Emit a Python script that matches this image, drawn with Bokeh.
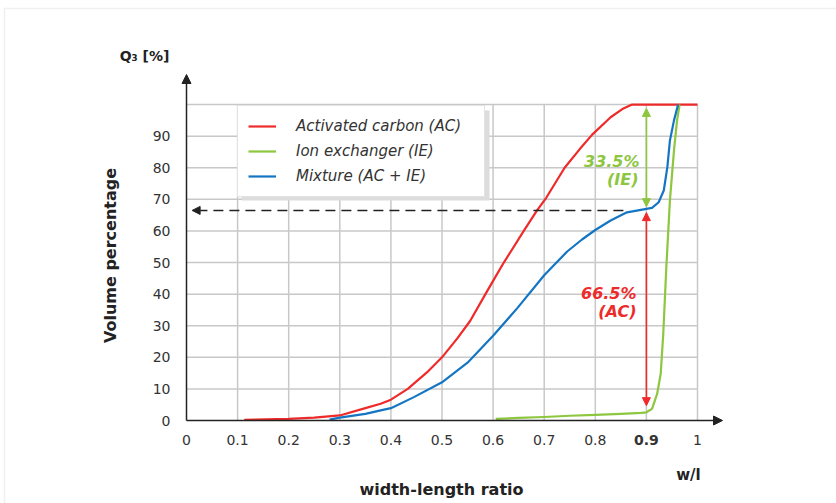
from bokeh.plotting import figure
from bokeh.models import (Range1d, Label, Arrow, NormalHead, Legend, LegendItem,
                          BoxAnnotation, ColumnDataSource)
from bokeh.core.properties import value
from bokeh.embed import file_html
from bokeh.resources import INLINE

# ---------------- data ----------------
ac_x = [0.113, 0.2, 0.25, 0.3, 0.35, 0.38, 0.4, 0.433, 0.471, 0.5, 0.53, 0.555,
        0.585, 0.6, 0.621, 0.66, 0.686, 0.704, 0.74, 0.77, 0.794, 0.83, 0.855,
        0.872, 1.0]
ac_y = [0.2, 0.5, 0.9, 1.6, 3.9, 5.3, 6.6, 10.0, 15.3, 20.0, 26.0, 31.5,
        40.0, 44.2, 50.0, 60.0, 66.5, 70.5, 80.0, 86.0, 90.5, 96.0, 98.8,
        100.0, 100.0]

ie_x = [0.605, 0.65, 0.7, 0.75, 0.8, 0.85, 0.89, 0.9, 0.911, 0.921, 0.928,
        0.933, 0.939, 0.946, 0.954, 0.96, 0.965]
ie_y = [0.5, 0.8, 1.1, 1.5, 1.8, 2.1, 2.4, 2.6, 3.7, 8.4, 14.8,
        27.4, 48.5, 69.6, 85.5, 95.0, 100.0]

mix_x = [0.28, 0.3, 0.35, 0.38, 0.4, 0.445, 0.5, 0.55, 0.6, 0.647, 0.7,
         0.745, 0.774, 0.8, 0.83, 0.862, 0.9, 0.911, 0.924, 0.934,
         0.941, 0.946, 0.954, 0.962]
mix_y = [0.3, 0.9, 2.1, 3.2, 3.9, 7.4, 12.1, 18.3, 26.8, 35.5, 46.0,
         53.5, 57.3, 60.3, 63.3, 65.9, 67.0, 67.3, 69.1, 72.8,
         80.2, 88.6, 95.0, 100.0]

series_names = ["Activated carbon (AC)", "Ion exchanger (IE)", "Mixture (AC + IE)"]

x_ticks = [0, 0.1, 0.2, 0.3, 0.4, 0.5, 0.6, 0.7, 0.8, 0.9, 1]
x_tick_labels = ["0", "0.1", "0.2", "0.3", "0.4", "0.5", "0.6", "0.7", "0.8", "0.9", "1"]
y_ticks = [0, 10, 20, 30, 40, 50, 60, 70, 80, 90]
y_tick_labels = ["0", "10", "20", "30", "40", "50", "60", "70", "80", "90"]
grid_x = [0.1, 0.2, 0.3, 0.4, 0.5, 0.6, 0.7, 0.8, 0.9, 1]
grid_y = [10, 20, 30, 40, 50, 60, 70, 80, 90, 100]

marker_x = 0.9          # highlighted ratio
mix_level = 66.5        # mixture value at 0.9
ie_share = "33.5%"
ac_share = "66.5%"
ie_arrow = (67.7, 98.8)
ac_arrow = (4.7, 65.8)
dash_from = 0.855
dash_to = 0.011

RED = "#ee2a2a"
GREEN = "#8dc63f"
BLUE = "#1476c3"
GRIDC = "#c8c8c8"
INK = "#222222"
FONT = "DejaVu Sans"

# ---------------- figure (frame spans the whole canvas) ----------------
W, H = 836, 503
OX, OY = 186.0, 420.0       # pixel position of the data origin
SX, SY = 511.0, 3.159       # pixels per data unit


def px_x(px):
    return (px - OX) / SX


def px_y(py):
    return (OY - py) / SY


p = figure(width=W, height=H, x_range=Range1d(px_x(0), px_x(W)),
           y_range=Range1d(px_y(H), px_y(0)),
           output_backend="svg", toolbar_location=None, title=None,
           x_axis_type=None, y_axis_type=None,
           min_border=0, min_border_left=0, min_border_right=0,
           min_border_top=0, min_border_bottom=0)
p.outline_line_color = None
p.background_fill_color = "white"
p.border_fill_color = "white"

# outer light border
p.add_layout(BoxAnnotation(left=px_x(4), right=px_x(W + 20), top=px_y(8), bottom=px_y(H + 20),
                           fill_color=None, line_color="#cccccc", line_width=1.5))

# grid
p.segment(x0=grid_x, y0=[0] * len(grid_x), x1=grid_x, y1=[grid_y[-1]] * len(grid_x),
          line_color=GRIDC, line_width=1.5)
p.segment(x0=[0] * len(grid_y), y0=grid_y, x1=[grid_x[-1]] * len(grid_y), y1=grid_y,
          line_color=GRIDC, line_width=1.5)

# tick labels
xsrc = ColumnDataSource(dict(x=x_ticks, y=[px_y(439)] * len(x_ticks), text=x_tick_labels,
                             style=["bold" if t == marker_x else "normal" for t in x_ticks]))
p.text(x="x", y="y", text="text", source=xsrc, text_font=value(FONT),
       text_font_size=value("14px"), text_font_style="style", text_color="#333333",
       text_align="center", text_baseline="middle")
p.text(x=[px_x(170)] * len(y_ticks), y=y_ticks, text=y_tick_labels, text_font=value(FONT),
       text_font_size=value("14px"), text_color="#333333", text_align="right",
       text_baseline="middle")

# curves
r_ac = p.line(ac_x, ac_y, line_color=RED, line_width=2.2, line_join="round")
r_ie = p.line(ie_x, ie_y, line_color=GREEN, line_width=2.2, line_join="round")
r_mix = p.line(mix_x, mix_y, line_color=BLUE, line_width=2.2, line_join="round")

# axis arrows
p.add_layout(Arrow(x_start=0, y_start=0, x_end=px_x(722), y_end=0, line_color=INK,
                   line_width=1.5, end=NormalHead(size=9, fill_color=INK, line_color=INK)))
p.add_layout(Arrow(x_start=0, y_start=0, x_end=0, y_end=px_y(74), line_color=INK,
                   line_width=1.5, end=NormalHead(size=9, fill_color=INK, line_color=INK)))

# dashed arrow
p.add_layout(Arrow(x_start=dash_from, y_start=mix_level, x_end=dash_to, y_end=mix_level,
                   line_color=INK, line_width=1.6, line_dash="10 6",
                   end=NormalHead(size=8, fill_color=INK, line_color=INK)))

# share arrows
p.add_layout(Arrow(x_start=marker_x, y_start=ie_arrow[0], x_end=marker_x, y_end=ie_arrow[1],
                   line_color=GREEN, line_width=1.6,
                   start=NormalHead(size=8, fill_color=GREEN, line_color=GREEN),
                   end=NormalHead(size=8, fill_color=GREEN, line_color=GREEN)))
p.add_layout(Arrow(x_start=marker_x, y_start=ac_arrow[0], x_end=marker_x, y_end=ac_arrow[1],
                   line_color=RED, line_width=1.6,
                   start=NormalHead(size=8, fill_color=RED, line_color=RED),
                   end=NormalHead(size=8, fill_color=RED, line_color=RED)))


def lab(x, y, text, size, color=INK, style="bold", align="center", baseline="middle", angle=0):
    p.add_layout(Label(x=x, y=y, text=text, text_font=FONT, text_font_size=size,
                       text_font_style=style, text_color=color, text_align=align,
                       text_baseline=baseline, angle=angle))


lab(px_x(639), px_y(161), ie_share, "16px", GREEN, "bold italic", "right")
lab(px_x(638), px_y(179), "(IE)", "16px", GREEN, "bold italic", "right")
lab(px_x(636), px_y(293), ac_share, "16px", RED, "bold italic", "right")
lab(px_x(636), px_y(311), "(AC)", "16px", RED, "bold italic", "right")

lab(px_x(144), px_y(55), "Q\u2083 [%]", "14px")
lab(px_x(110), px_y(255), "Volume percentage", "16px", angle=1.5707963)
lab(px_x(441), px_y(489), "width-length ratio", "16px")
lab(px_x(688), px_y(474), "w/l", "15px")

# legend shadow + legend
LEG_L, LEG_T, LEG_R, LEG_B = 237, 107, 485, 197
p.add_layout(BoxAnnotation(left=px_x(LEG_L + 4), right=px_x(LEG_R + 4),
                           top=px_y(LEG_T + 3), bottom=px_y(LEG_B + 3),
                           fill_color="#dcdcdc", fill_alpha=1, line_color=None))

legend = Legend(items=[LegendItem(label=series_names[0], renderers=[r_ac]),
                       LegendItem(label=series_names[1], renderers=[r_ie]),
                       LegendItem(label=series_names[2], renderers=[r_mix])],
                location=(LEG_L, H - LEG_B), padding=10, spacing=5, margin=0,
                glyph_width=28, glyph_height=20, label_height=20, label_standoff=20,
                label_width=178, border_line_color="#c8c8c8", border_line_width=1.5,
                background_fill_color="white", background_fill_alpha=1,
                label_text_font=FONT, label_text_font_style="italic",
                label_text_font_size="15px", label_text_color="#333333")
p.add_layout(legend, "center")

open("out.html", "w").write(file_html(p, INLINE))
